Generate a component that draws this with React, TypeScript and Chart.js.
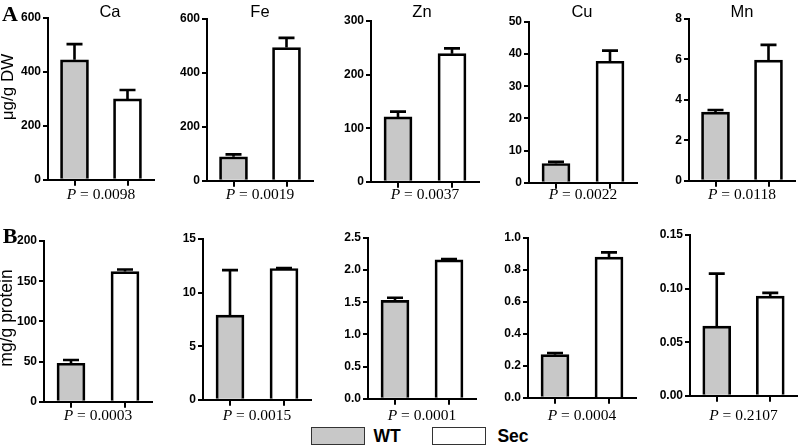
import React, { useEffect, useRef } from "react";
import { Chart, registerables } from "chart.js";

Chart.register(...registerables);

// ---------- DATA ----------
const groups = ["WT", "Sec"];
const elements = ["Ca", "Fe", "Zn", "Cu", "Mn"];

// Row A: µg/g DW
const dwWtMean = [445, 89, 121, 6.0, 3.4];
const dwWtSem = [58, 9, 10, 0.5, 0.1];
const dwSecMean = [300, 494, 239, 37.8, 5.97];
const dwSecSem = [33, 36, 10, 3.3, 0.75];
const dwPValues = ["0.0098", "0.0019", "0.0037", "0.0022", "0.0118"];
const dwAxisMax = [600, 600, 300, 50, 8];
const dwAxisStep = [200, 200, 100, 10, 2];
const dwTickDecimals = [0, 0, 0, 0, 0];

// Row B: mg/g protein
const proteinWtMean = [48, 7.9, 1.53, 0.27, 0.065];
const proteinWtSem = [4, 4.2, 0.04, 0.01, 0.049];
const proteinSecMean = [162, 12.25, 2.16, 0.88, 0.093];
const proteinSecSem = [2.5, 0.05, 0.012, 0.03, 0.003];
const proteinPValues = ["0.0003", "0.0015", "0.0001", "0.0004", "0.2107"];
const proteinAxisMax = [200, 15, 2.5, 1.0, 0.15];
const proteinAxisStep = [50, 5, 0.5, 0.2, 0.05];
const proteinTickDecimals = [0, 0, 1, 1, 2];

// ---------- LAYOUT (page pixel boxes of each plot area) ----------
const layoutA = [
  { l: 48, r: 154, t: 18, b: 181 },
  { l: 207, r: 313, t: 19, b: 182 },
  { l: 371, r: 479, t: 21, b: 183 },
  { l: 529, r: 637, t: 22, b: 184 },
  { l: 689, r: 795, t: 19, b: 182 },
];
const layoutB = [
  { l: 44, r: 152, t: 241, b: 403 },
  { l: 203, r: 311, t: 239, b: 401 },
  { l: 368, r: 476, t: 238, b: 400 },
  { l: 528, r: 636, t: 238, b: 399 },
  { l: 690, r: 797, t: 235, b: 397 },
];
const titleX = [110, 260, 422, 582, 742];

const SANS = "'Liberation Sans', Arial, Helvetica, sans-serif";
const SERIF = "'Liberation Serif', 'Times New Roman', Times, serif";
const WT_FILL = "#c8c8c8";

const PAD_L = 46;
const PAD_R = 4;
const PAD_T = 10;
const PAD_B = 8;

type Area = { l: number; r: number; t: number; b: number };

function makeErrorPlugin(errors: number[]) {
  return {
    id: "errorBars",
    afterDatasetsDraw(chart: any) {
      const ctx = chart.ctx;
      const yScale = chart.scales.y;
      const meta = chart.getDatasetMeta(0);
      const values = chart.data.datasets[0].data as number[];
      meta.data.forEach((bar: any, i: number) => {
        const yTop = yScale.getPixelForValue(values[i] + errors[i]);
        const yBar = bar.y;
        ctx.save();
        ctx.strokeStyle = "#000";
        ctx.lineWidth = 2.6;
        ctx.beginPath();
        ctx.moveTo(bar.x, yBar);
        ctx.lineTo(bar.x, yTop);
        ctx.moveTo(bar.x - 8, yTop);
        ctx.lineTo(bar.x + 8, yTop);
        ctx.stroke();
        ctx.restore();
      });
    },
  };
}

function Panel(props: {
  area: Area;
  means: number[];
  sems: number[];
  max: number;
  step: number;
  decimals: number;
}) {
  const { area, means, sems, max, step, decimals } = props;
  const ref = useRef<HTMLCanvasElement>(null);
  const w = area.r - area.l + PAD_L + PAD_R;
  const h = area.b - area.t + PAD_T + PAD_B;

  useEffect(() => {
    if (!ref.current) return;
    const chart = new Chart(ref.current, {
      type: "bar",
      data: {
        labels: groups,
        datasets: [
          {
            data: means,
            backgroundColor: [WT_FILL, "#ffffff"],
            borderColor: "#000",
            borderWidth: 2.7,
            barThickness: 28,
          },
        ],
      },
      options: {
        responsive: false,
        animation: false,
        events: [],
        layout: { padding: { left: 0, right: PAD_R, top: PAD_T, bottom: 0 } },
        plugins: {
          legend: { display: false },
          tooltip: { enabled: false },
          title: { display: false },
        },
        scales: {
          x: {
            offset: true,
            afterFit: (s: any) => {
              s.height = PAD_B;
            },
            grid: {
              offset: false,
              drawOnChartArea: false,
              drawTicks: true,
              tickLength: 6,
              color: "#000",
              lineWidth: 2,
            },
            border: { display: true, color: "#000", width: 2 },
            ticks: { display: false },
          },
          y: {
            min: 0,
            max: max,
            afterFit: (s: any) => {
              s.width = PAD_L;
            },
            grid: {
              drawOnChartArea: false,
              drawTicks: true,
              tickLength: 5,
              color: "#000",
              lineWidth: 2,
            },
            border: { display: true, color: "#000", width: 2 },
            ticks: {
              stepSize: step,
              padding: 2,
              color: "#000",
              font: { family: SANS, size: 12, weight: "bold" },
              callback: (v: any) => Number(v).toFixed(decimals),
            },
          },
        },
      },
      plugins: [makeErrorPlugin(sems)],
    } as any);
    return () => chart.destroy();
  }, []);

  return (
    <canvas
      ref={ref}
      width={w}
      height={h}
      style={{
        position: "absolute",
        left: area.l - PAD_L,
        top: area.t - PAD_T,
        width: w,
        height: h,
      }}
    />
  );
}

function Label(props: {
  x: number;
  y: number;
  children: React.ReactNode;
  style?: React.CSSProperties;
  rotate?: boolean;
}) {
  return (
    <div
      style={{
        position: "absolute",
        left: props.x,
        top: props.y,
        transform: `translate(-50%, -50%)${props.rotate ? " rotate(-90deg)" : ""}`,
        whiteSpace: "nowrap",
        lineHeight: 1,
        color: "#000",
        ...props.style,
      }}
    >
      {props.children}
    </div>
  );
}

export default function App() {
  const rowA = elements.map((el, i) => ({
    el,
    area: layoutA[i],
    means: [dwWtMean[i], dwSecMean[i]],
    sems: [dwWtSem[i], dwSecSem[i]],
    max: dwAxisMax[i],
    step: dwAxisStep[i],
    decimals: dwTickDecimals[i],
    p: dwPValues[i],
  }));
  const rowB = elements.map((el, i) => ({
    el,
    area: layoutB[i],
    means: [proteinWtMean[i], proteinSecMean[i]],
    sems: [proteinWtSem[i], proteinSecSem[i]],
    max: proteinAxisMax[i],
    step: proteinAxisStep[i],
    decimals: proteinTickDecimals[i],
    p: proteinPValues[i],
  }));

  const pStyle: React.CSSProperties = { fontFamily: SERIF, fontSize: 15.5 };

  return (
    <div
      style={{
        position: "fixed",
        left: 0,
        top: 0,
        width: 800,
        height: 448,
        background: "#fff",
        overflow: "hidden",
      }}
    >
      {rowA.map((p, i) => (
        <Panel key={"a" + i} area={p.area} means={p.means} sems={p.sems} max={p.max} step={p.step} decimals={p.decimals} />
      ))}
      {rowB.map((p, i) => (
        <Panel key={"b" + i} area={p.area} means={p.means} sems={p.sems} max={p.max} step={p.step} decimals={p.decimals} />
      ))}

      {rowA.map((p, i) => (
        <Label key={"t" + i} x={titleX[i]} y={11} style={{ fontFamily: SANS, fontSize: 16.5 }}>
          {p.el}
        </Label>
      ))}
      {rowA.map((p, i) => (
        <Label key={"pa" + i} x={(p.area.l + p.area.r) / 2} y={194} style={pStyle}>
          <i>P</i> = {p.p}
        </Label>
      ))}
      {rowB.map((p, i) => (
        <Label key={"pb" + i} x={(p.area.l + p.area.r) / 2} y={415} style={pStyle}>
          <i>P</i> = {p.p}
        </Label>
      ))}

      <Label x={10} y={14} style={{ fontFamily: SERIF, fontSize: 22, fontWeight: "bold" }}>A</Label>
      <Label x={10} y={236} style={{ fontFamily: SERIF, fontSize: 22, fontWeight: "bold" }}>B</Label>

      <Label x={7} y={87} rotate style={{ fontFamily: SANS, fontSize: 17 }}>μg/g DW</Label>
      <Label x={7} y={318} rotate style={{ fontFamily: SANS, fontSize: 17.5 }}>mg/g protein</Label>

      {/* Legend */}
      <div style={{ position: "absolute", left: 311, top: 427, width: 52, height: 16, background: WT_FILL, border: "1.5px solid #333" }} />
      <Label x={387} y={437} style={{ fontFamily: SANS, fontSize: 17.5, fontWeight: "bold" }}>{groups[0]}</Label>
      <div style={{ position: "absolute", left: 432, top: 427, width: 52, height: 16, background: "#fff", border: "1.5px solid #333" }} />
      <Label x={513} y={437} style={{ fontFamily: SANS, fontSize: 17.5, fontWeight: "bold" }}>{groups[1]}</Label>
    </div>
  );
}
